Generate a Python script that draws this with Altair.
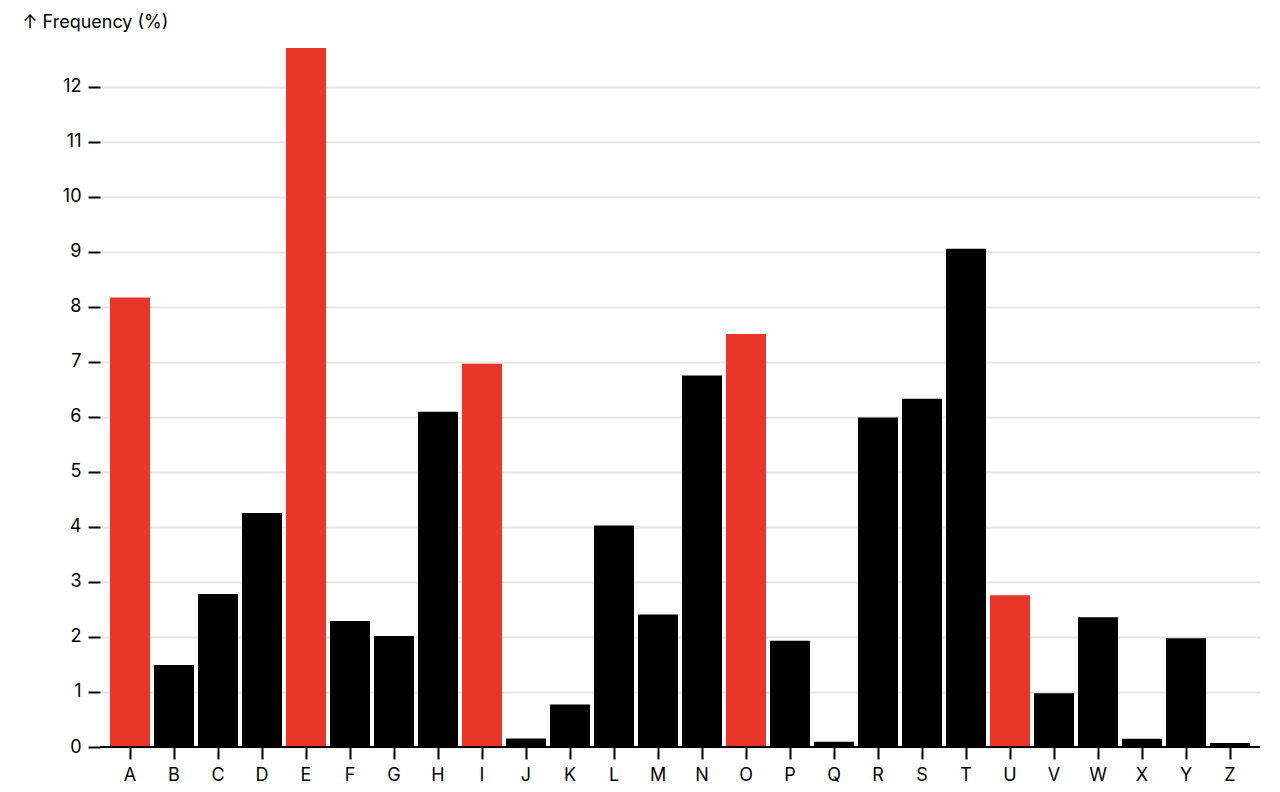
import altair as alt
import pandas as pd

letters = list("ABCDEFGHIJKLMNOPQRSTUVWXYZ")
frequency = [8.167, 1.492, 2.782, 4.253, 12.702, 2.288, 2.015, 6.094, 6.966, 0.153,
             0.772, 4.025, 2.406, 6.749, 7.507, 1.929, 0.095, 5.987, 6.327, 9.056,
             2.758, 0.978, 2.360, 0.150, 1.974, 0.074]
vowels = set("AEIOU")

df = pd.DataFrame({
    "letter": letters,
    "frequency": frequency,
    "vowel": ["vowel" if l in vowels else "consonant" for l in letters],
})

FONT = "Inter"
FS = 18

bars = alt.Chart(df).mark_bar().encode(
    x=alt.X("letter:N", sort=letters,
            scale=alt.Scale(paddingInner=4/44, paddingOuter=10/44),
            axis=alt.Axis(title=None, labelAngle=0, tickSize=12, tickWidth=2,
                          tickColor="black", labelFontSize=FS, labelPadding=7,
                          labelColor="black", domain=False, grid=False, labelFont=FONT)),
    y=alt.Y("frequency:Q",
            scale=alt.Scale(domain=[0, 12.702], nice=False, zero=True),
            axis=alt.Axis(title="↑ Frequency (%)", values=list(range(0, 13)), format="d",
                          tickSize=12, tickWidth=2, tickColor="black",
                          labelFontSize=FS, labelPadding=7, labelColor="black",
                          domain=False, grid=True, gridColor="#e6e6e6", gridWidth=2,
                          labelFont=FONT, titleFont=FONT, titleFontSize=FS,
                          titleFontWeight="normal", titleColor="black",
                          titleAngle=0, titleAlign="left", titleBaseline="alphabetic",
                          titleX=-78, titleY=-21)),
    color=alt.Color("vowel:N",
                    scale=alt.Scale(domain=["vowel", "consonant"], range=["#e9352a", "#000000"]),
                    legend=None),
)

zero = alt.Chart(pd.DataFrame({"y": [0]})).mark_rule(color="black", strokeWidth=2).encode(
    y=alt.Y("y:Q")
)

chart = alt.layer(bars, zero).properties(
    width=1160, height=699,
    autosize=alt.AutoSizeParams(type="none"),
    padding={"left": 100, "top": 48, "right": 20, "bottom": 45},
).configure_view(stroke=None)

chart.save("out.html", embed_options={"renderer": "svg", "actions": False})
